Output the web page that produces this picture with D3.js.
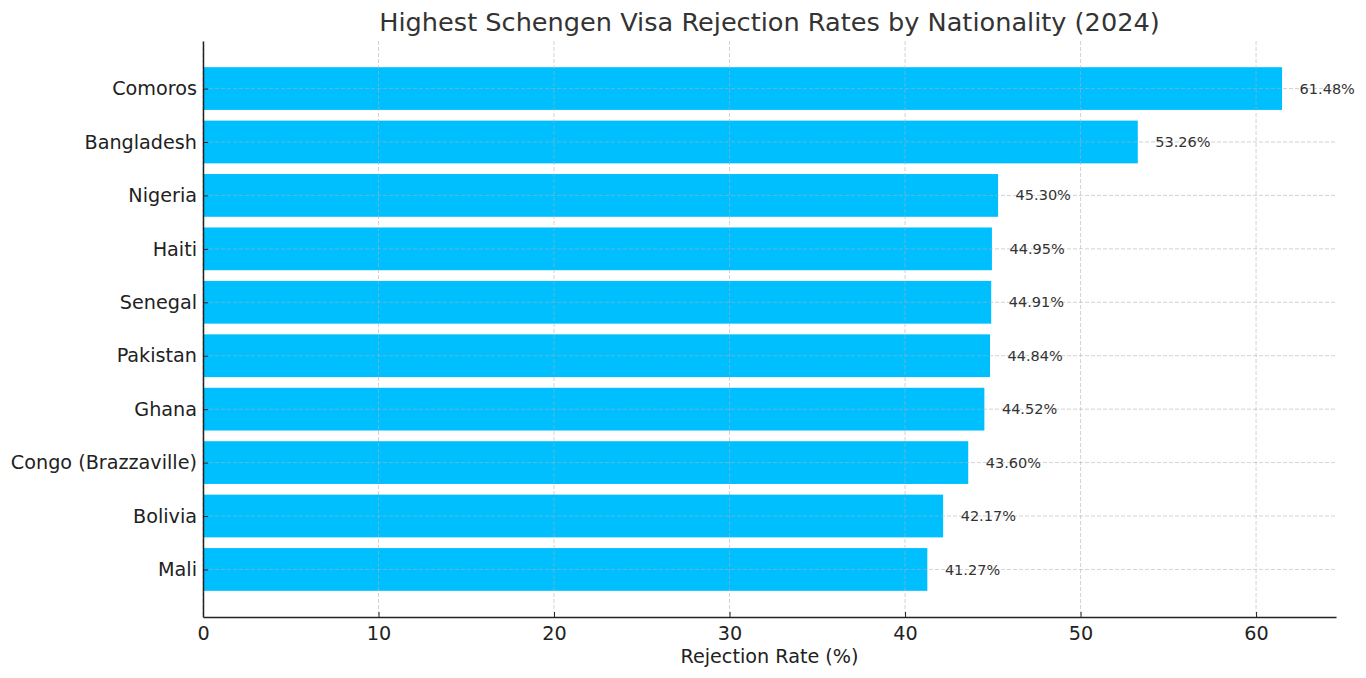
<!DOCTYPE html>
<html>
<head>
<meta charset="utf-8">
<script src="https://cdn.jsdelivr.net/npm/d3@7"></script>
<style>
  body { margin: 0; background: #fff; }
  text { font-family: "DejaVu Sans", sans-serif; }
</style>
</head>
<body>
<div id="plot"></div>
<script>
// data
var countries = ["Comoros", "Bangladesh", "Nigeria", "Haiti", "Senegal", "Pakistan", "Ghana", "Congo (Brazzaville)", "Bolivia", "Mali"];
var rates = [61.48, 53.26, 45.30, 44.95, 44.91, 44.84, 44.52, 43.60, 42.17, 41.27];
var xTicks = [0, 10, 20, 30, 40, 50, 60];

var W = 1366, H = 678;
var margin = {left: 203, right: 30, top: 41, bottom: 61};
var width = W - margin.left - margin.right;
var height = H - margin.top - margin.bottom;

var svg = d3.select("#plot")
  .append("svg")
  .attr("width", W)
  .attr("height", H);

var g = svg.append("g")
  .attr("transform", `translate(${margin.left}, ${margin.top})`);

// x scale, matplotlib-like 5% margin at right
var xMax = d3.max(rates) * 1.05;
var x = d3.scaleLinear()
  .domain([0, xMax])
  .range([0, width]);

// y scale on category index, bars 0.8 tall plus 5% margins
var n = countries.length;
var pad = (n - 1 + 0.8) * 0.05;
var y = d3.scaleLinear()
  .domain([-0.4 - pad, n - 1 + 0.4 + pad])
  .range([0, height]);
var barH = y(0.8) - y(0);

// bars
g.selectAll(".bar")
  .data(rates)
  .enter()
  .append("rect")
  .attr("class", "bar")
  .attr("x", x(0))
  .attr("y", (d, i) => y(i - 0.4))
  .attr("width", d => x(d) - x(0))
  .attr("height", barH)
  .attr("fill", "#00bfff");

// grid (drawn above bars)
g.append("g")
  .selectAll("line")
  .data(xTicks)
  .enter()
  .append("line")
  .attr("x1", d => x(d)).attr("x2", d => x(d))
  .attr("y1", 0).attr("y2", height)
  .attr("stroke", "#b0b0b0")
  .attr("stroke-opacity", 0.7)
  .attr("stroke-width", 0.8)
  .attr("stroke-dasharray", "4,2");

g.append("g")
  .selectAll("line")
  .data(countries)
  .enter()
  .append("line")
  .attr("x1", 0).attr("x2", width)
  .attr("y1", (d, i) => y(i)).attr("y2", (d, i) => y(i))
  .attr("stroke", "#b0b0b0")
  .attr("stroke-opacity", 0.7)
  .attr("stroke-width", 0.8)
  .attr("stroke-dasharray", "4,2");

// value labels
g.selectAll(".val")
  .data(rates)
  .enter()
  .append("text")
  .attr("class", "val")
  .attr("x", d => x(d + 1))
  .attr("y", (d, i) => y(i))
  .attr("dy", "0.35em")
  .attr("font-size", "14.5px")
  .attr("fill", "#333")
  .text(d => d.toFixed(2) + "%");

// X axis
var xAxis = g.append("g")
  .attr("transform", `translate(0, ${height})`)
  .call(d3.axisBottom(x).tickValues(xTicks).tickFormat(d3.format("d")).tickSizeInner(-5).tickSizeOuter(0).tickPadding(9));
xAxis.select(".domain").attr("stroke", "#222").attr("stroke-width", 1.5);
xAxis.selectAll(".tick line").attr("stroke", "#222");
xAxis.selectAll(".tick text").attr("font-size", "19.2px").attr("fill", "#222")
  .attr("font-family", "DejaVu Sans, sans-serif");

// Y axis
var yAxis = g.append("g")
  .call(d3.axisLeft(y).tickValues(d3.range(n)).tickFormat(i => countries[i]).tickSizeInner(-5).tickSizeOuter(0).tickPadding(6));
yAxis.select(".domain").attr("stroke", "#222").attr("stroke-width", 1.5);
yAxis.selectAll(".tick line").attr("stroke", "#222");
yAxis.selectAll(".tick text").attr("font-size", "19.2px").attr("fill", "#222")
  .attr("font-family", "DejaVu Sans, sans-serif");

// title
svg.append("text")
  .attr("x", margin.left + width / 2)
  .attr("y", 31)
  .attr("text-anchor", "middle")
  .attr("font-size", "25.6px")
  .attr("fill", "#333")
  .text("Highest Schengen Visa Rejection Rates by Nationality (2024)");

// x label
svg.append("text")
  .attr("x", margin.left + width / 2)
  .attr("y", 663)
  .attr("text-anchor", "middle")
  .attr("font-size", "19.2px")
  .attr("fill", "#222")
  .text("Rejection Rate (%)");
</script>
</body>
</html>
